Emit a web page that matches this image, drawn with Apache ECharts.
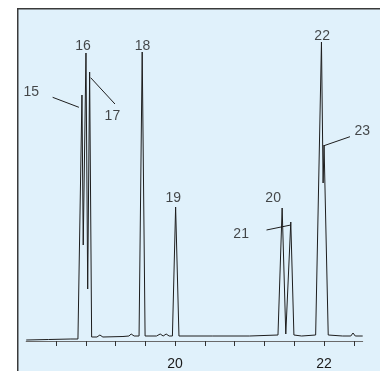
<!DOCTYPE html>
<html>
<head>
<meta charset="utf-8">
<script src="https://cdn.jsdelivr.net/npm/echarts@6/dist/echarts.min.js"></script>
<style>
html,body{margin:0;padding:0;background:#fff;}
#chart{width:380px;height:371px;}
</style>
</head>
<body>
<div id="chart"></div>
<script>
// Retention time (min) and detector signal of the chromatogram trace
var times = [18.00, 18.30, 18.60, 18.695, 18.749, 18.766, 18.803, 18.826, 18.852, 18.879,
  18.95, 18.99, 19.03, 19.30, 19.38, 19.41, 19.45, 19.516, 19.558, 19.597,
  19.75, 19.80, 19.84, 19.88, 19.92, 19.964, 20.007, 20.052, 20.50, 21.00,
  21.382, 21.438, 21.487, 21.554, 21.596, 21.70, 21.888, 21.966, 21.988, 22.001,
  22.057, 22.25, 22.36, 22.39, 22.42, 22.52];
var signal = [1, 1.5, 2, 2, 246, 96, 288, 52, 269, 4,
  4, 6, 4, 4.5, 5, 7, 5, 5, 289, 5,
  5, 7, 5, 7, 5, 5, 134, 5, 5, 5,
  6, 133, 7, 119, 6, 5, 6, 299, 158, 196,
  6, 5, 5, 8, 5, 5];

// Peak labels (text and anchor in data coordinates)
var peakNames = ['15', '16', '17', '18', '19', '20', '21', '22', '23'];
var peakLabelT = [18.068, 18.762, 19.158, 19.561, 19.975, 21.317, 20.887, 21.975, 22.515];
var peakLabelV = [249, 295, 225, 295, 143, 143, 107, 305, 210];

// Leader lines from label to peak
var leaderT1 = [18.355, 18.866, 21.228, 22.000];
var leaderV1 = [243.7, 263.3, 111, 195.3];
var leaderT2 = [18.708, 19.192, 21.554, 22.349];
var leaderV2 = [233.7, 237, 116, 204.3];

// Axis ticks and labels
var tickValues = [18.4, 18.8, 19.2, 19.6, 20.0, 20.4, 20.8, 21.2, 21.6, 22.0, 22.4];
var tickLabels = [20, 22];

var trace = times.map(function (t, i) { return [t, signal[i]]; });
var labelData = peakNames.map(function (n, i) { return { value: [peakLabelT[i], peakLabelV[i]], name: n }; });
var leaderData = leaderT1.map(function (t, i) { return { coords: [[t, leaderV1[i]], [leaderT2[i], leaderV2[i]]] }; });

var chart = echarts.init(document.getElementById('chart'), null, { renderer: 'canvas' });
chart.setOption({
  animation: false,
  backgroundColor: '#ffffff',
  graphic: [{
    type: 'rect',
    z: -10,
    silent: true,
    shape: { x: 17.75, y: 8.75, width: 400, height: 400 },
    style: { fill: '#e0f1fb', stroke: '#3a3a3a', lineWidth: 1.5 }
  }],
  grid: { left: 26.2, right: 17.3, top: 1, bottom: 30 },
  xAxis: {
    type: 'value',
    min: 18,
    max: 22.52,
    interval: 0.4,
    splitLine: { show: false },
    axisLine: { show: true, lineStyle: { color: '#6a6a6a', width: 1 } },
    axisTick: { show: true, length: 5, customValues: tickValues, lineStyle: { color: '#333', width: 1 } },
    axisLabel: {
      customValues: tickLabels,
      margin: 16,
      color: '#1a1a1a',
      fontSize: 14,
      fontFamily: 'Liberation Sans, Arial, sans-serif',
      formatter: function (v) { return String(Math.round(v)); }
    }
  },
  yAxis: {
    type: 'value',
    min: 0,
    max: 340,
    show: false,
    splitLine: { show: false }
  },
  series: [
    {
      type: 'line',
      data: trace,
      symbol: 'none',
      smooth: false,
      clip: false,
      lineStyle: { color: '#1e1e1e', width: 1 },
      z: 3
    },
    {
      type: 'lines',
      coordinateSystem: 'cartesian2d',
      data: leaderData,
      lineStyle: { color: '#1e1e1e', width: 1, opacity: 1 },
      z: 4
    },
    {
      type: 'scatter',
      data: labelData,
      symbolSize: 0,
      clip: false,
      label: {
        show: true,
        position: 'inside',
        formatter: function (p) { return p.name; },
        color: '#1a1a1a',
        fontSize: 14,
        fontFamily: 'Liberation Sans, Arial, sans-serif'
      },
      z: 5
    }
  ]
});
</script>
</body>
</html>
